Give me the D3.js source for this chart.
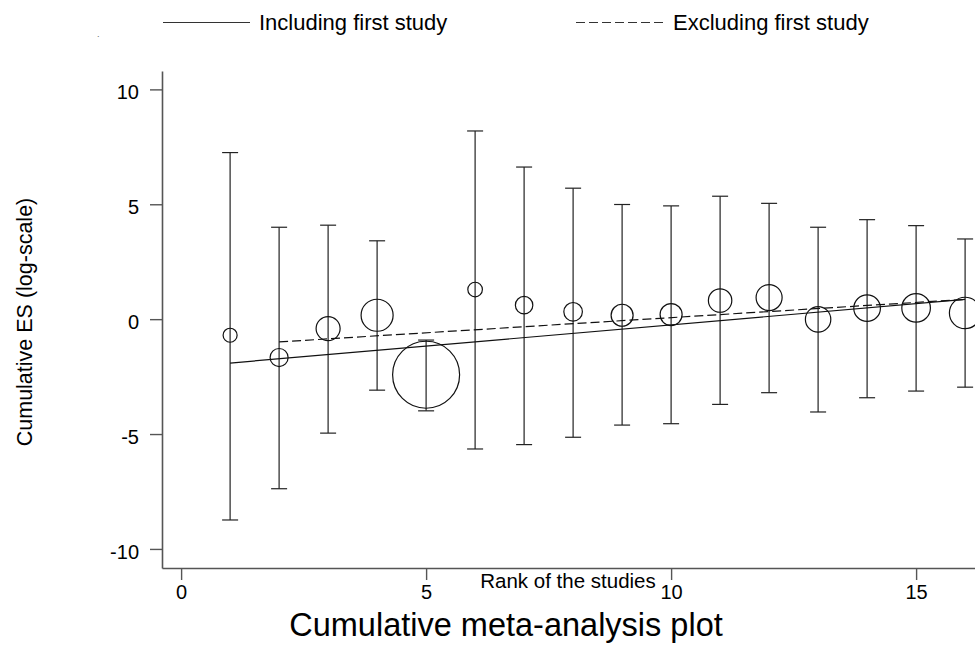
<!DOCTYPE html>
<html>
<head>
<meta charset="utf-8">
<script src="https://cdn.jsdelivr.net/npm/d3@7"></script>
<style>
  html, body { margin: 0; padding: 0; background: #fff; overflow: hidden; }
  svg { display: block; font-family: "Liberation Sans", Arial, Helvetica, sans-serif; }
</style>
</head>
<body>
<svg id="chart" width="975" height="657"></svg>
<script>
// Study rank (order of inclusion in the cumulative meta-analysis)
const ranks = [1, 2, 3, 4, 5, 6, 7, 8, 9, 10, 11, 12, 13, 14, 15, 16];
// Cumulative effect size (log scale) and its confidence limits
const cumES   = [-0.70, -1.67, -0.41, 0.17, -2.42, 1.29, 0.61, 0.32, 0.17, 0.20, 0.81, 0.94, -0.01, 0.48, 0.49, 0.27];
const ciUpper = [7.25, 4.00, 4.09, 3.41, -0.91, 8.19, 6.62, 5.70, 4.99, 4.93, 5.35, 5.04, 4.00, 4.33, 4.07, 3.49];
const ciLower = [-8.74, -7.38, -4.96, -3.09, -3.99, -5.65, -5.46, -5.14, -4.61, -4.55, -3.71, -3.20, -4.04, -3.42, -3.13, -2.96];
// Study weights (marker area)
const weights = [4.9, 8.1, 14.4, 25.6, 112, 5.3, 7.6, 8.6, 12.1, 12.1, 13.7, 16.9, 16.1, 17.7, 20.4, 24.6];
// Trend lines: with and without the first study
const includeFitRank = [1, 16];
const includeFitES   = [-1.91, 0.86];
const excludeFitRank = [2, 16];
const excludeFitES   = [-0.99, 0.86];
// Axis ticks
const xTicks = [0, 5, 10, 15];
const yTicks = [-10, -5, 0, 5, 10];

const svg = d3.select("#chart");

const x = d3.scaleLinear().domain([-0.39, 16.4]).range([162, 984.7]);
const y = d3.scaleLinear().domain([-10.83, 10.8]).range([568, 71]);
const r = d3.scaleSqrt().domain([0, 112]).range([0, 33.5]);

const studies = ranks.map((k, i) => ({
  rank: k, es: cumES[i], hi: ciUpper[i], lo: ciLower[i], w: weights[i]
}));

// Axes (plain hyphen for negative labels)
const axisColor = "#555";
const plainFmt = d => String(d);
const yAxis = svg.append("g")
  .attr("transform", `translate(${x.range()[0]},0)`)
  .call(d3.axisLeft(y).tickValues(yTicks).tickFormat(plainFmt).tickSize(12).tickSizeOuter(0).tickPadding(11));
const xAxis = svg.append("g")
  .attr("transform", `translate(0,${y.range()[0]})`)
  .call(d3.axisBottom(x).tickValues(xTicks).tickFormat(plainFmt).tickSize(12).tickSizeOuter(0).tickPadding(4));

[yAxis, xAxis].forEach(g => {
  g.select(".domain").attr("stroke", axisColor).attr("stroke-width", 1.6);
  g.selectAll(".tick line").attr("stroke", axisColor).attr("stroke-width", 1.4);
  g.selectAll(".tick text").attr("fill", "#000").attr("font-size", 20)
    .attr("font-family", "Liberation Sans, Arial, sans-serif");
});
yAxis.selectAll(".tick text").attr("dy", "0.47em");
xAxis.selectAll(".tick text").attr("dy", "0.73em");

// Error bars
const capHalf = 8;
const bars = svg.append("g").attr("stroke", "#222").attr("stroke-width", 1.2).attr("fill", "none");
bars.selectAll("line.v").data(studies).join("line").attr("class", "v")
  .attr("x1", d => x(d.rank)).attr("x2", d => x(d.rank))
  .attr("y1", d => y(d.hi)).attr("y2", d => y(d.lo));
bars.selectAll("line.hi").data(studies).join("line").attr("class", "hi")
  .attr("x1", d => x(d.rank) - capHalf).attr("x2", d => x(d.rank) + capHalf)
  .attr("y1", d => y(d.hi)).attr("y2", d => y(d.hi));
bars.selectAll("line.lo").data(studies).join("line").attr("class", "lo")
  .attr("x1", d => x(d.rank) - capHalf).attr("x2", d => x(d.rank) + capHalf)
  .attr("y1", d => y(d.lo)).attr("y2", d => y(d.lo));

// Trend lines
const line = d3.line().x(d => x(d[0])).y(d => y(d[1]));
svg.append("path")
  .datum(d3.zip(includeFitRank, includeFitES))
  .attr("d", line).attr("fill", "none").attr("stroke", "#111").attr("stroke-width", 1.2);
svg.append("path")
  .datum(d3.zip(excludeFitRank, excludeFitES))
  .attr("d", line).attr("fill", "none").attr("stroke", "#111").attr("stroke-width", 1.2)
  .attr("stroke-dasharray", "9,4");

// Weighted markers
svg.append("g").selectAll("circle").data(studies).join("circle")
  .attr("cx", d => x(d.rank)).attr("cy", d => y(d.es)).attr("r", d => r(d.w))
  .attr("fill", "none").attr("stroke", "#111").attr("stroke-width", 1.2);

// Axis titles
svg.append("text")
  .attr("transform", "translate(25,322) rotate(-90)")
  .attr("text-anchor", "middle").attr("dominant-baseline", "central")
  .attr("font-size", 21.5).text("Cumulative ES (log-scale)");
svg.append("text")
  .attr("x", 568).attr("y", 588).attr("text-anchor", "middle")
  .attr("font-size", 20.5).text("Rank of the studies");
svg.append("text")
  .attr("x", 506).attr("y", 636).attr("text-anchor", "middle")
  .attr("font-size", 32.5).text("Cumulative meta-analysis plot");

// Legend
const legend = svg.append("g");
legend.append("line").attr("x1", 163).attr("x2", 250).attr("y1", 22.5).attr("y2", 22.5)
  .attr("stroke", "#333").attr("stroke-width", 1.2);
legend.append("text").attr("x", 259).attr("y", 29.5).attr("font-size", 22).text("Including first study");
legend.append("line").attr("x1", 576).attr("x2", 665).attr("y1", 22.5).attr("y2", 22.5)
  .attr("stroke", "#333").attr("stroke-width", 1.2).attr("stroke-dasharray", "9,4");
legend.append("text").attr("x", 673).attr("y", 29.5).attr("font-size", 22).text("Excluding first study");
legend.append("text").attr("x", 97).attr("y", 37).attr("font-size", 9).attr("fill", "#666").text(".");
</script>
</body>
</html>
